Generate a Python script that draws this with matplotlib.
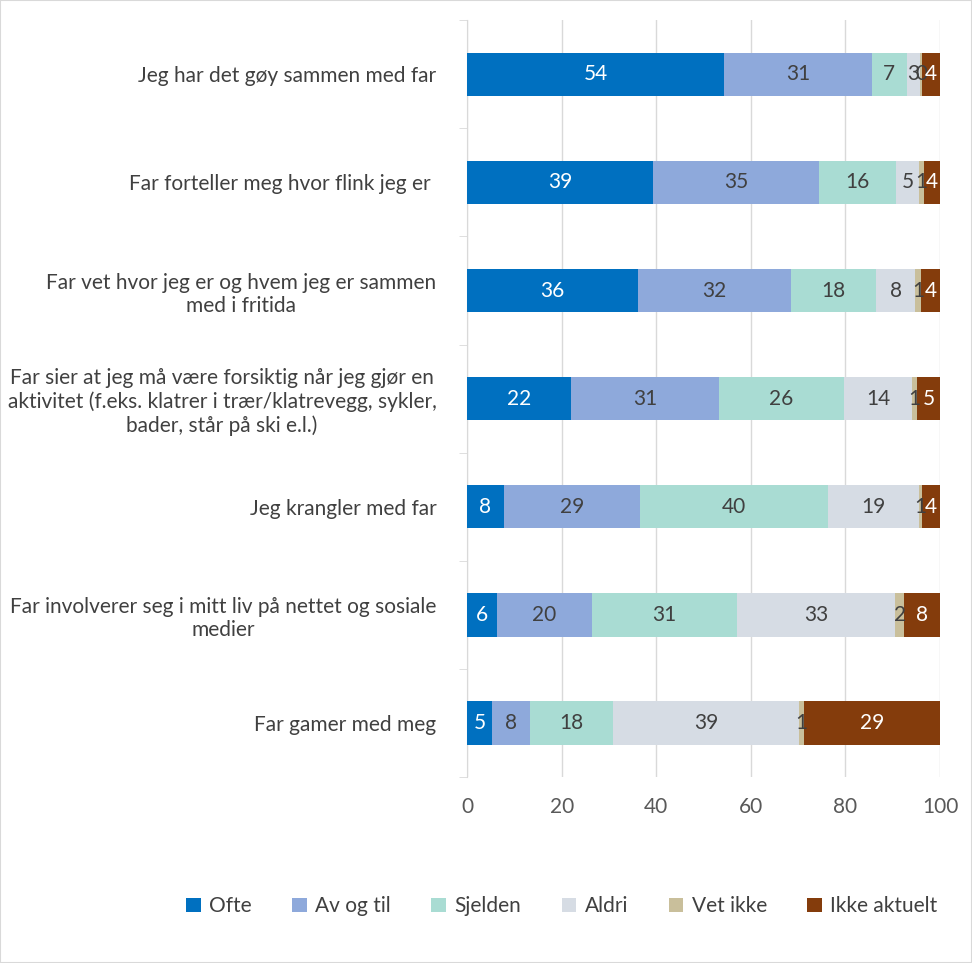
import matplotlib
matplotlib.use('Agg')
import matplotlib.pyplot as plt
import numpy as np

plt.rcParams['font.family'] = ['Lato', 'DejaVu Sans']

categories = [
    'Jeg har det gøy sammen med far',
    'Far forteller meg hvor flink jeg er ',
    'Far vet hvor jeg er og hvem jeg er sammen\nmed i fritida',
    'Far sier at jeg må være forsiktig når jeg gjør en\naktivitet (f.eks. klatrer i trær/klatrevegg, sykler,\nbader, står på ski e.l.)',
    'Jeg krangler med far',
    'Far involverer seg i mitt liv på nettet og sosiale\nmedier',
    'Far gamer med meg',
]
series_names = ['Ofte', 'Av og til', 'Sjelden', 'Aldri', 'Vet ikke', 'Ikke aktuelt']
ofte = [54.3, 39.3, 36.2, 22.0, 7.8, 6.3, 5.3]
av_og_til = [31.3, 35.1, 32.3, 31.3, 28.8, 20.1, 8.0]
sjelden = [7.4, 16.3, 18.0, 26.4, 39.7, 30.7, 17.6]
aldri = [2.8, 4.9, 8.2, 14.4, 19.3, 33.4, 39.3]
vet_ikke = [0.4, 1.0, 1.3, 1.0, 0.6, 1.9, 1.0]
ikke_aktuelt = [3.8, 3.6, 4.0, 4.9, 3.8, 7.6, 28.8]

colors = ['#0070C0', '#8EA9DB', '#A9DCD3', '#D6DCE4', '#C9BF9B', '#843C0C']
text_colors = ['white', '#404040', '#404040', '#404040', '#404040', 'white']

series = [ofte, av_og_til, sjelden, aldri, vet_ikke, ikke_aktuelt]

fig = plt.figure(figsize=(9.72, 9.63), dpi=100)
ax = fig.add_axes([0.4805, 0.193, 0.4866, 0.786])

y = np.arange(len(categories))
left = np.zeros(len(categories))
for name, vals, c, tc in zip(series_names, series, colors, text_colors):
    vals = np.array(vals)
    bars = ax.barh(y, vals, left=left, height=0.4, color=c, label=name, zorder=3)
    ax.bar_label(bars, labels=[f'{v:.0f}' for v in vals], label_type='center',
                 color=tc, fontsize=15, zorder=4)
    left += vals

ax.set_xlim(0, 100)
ax.set_ylim(len(categories) - 0.5, -0.5)
ax.set_xticks([0, 20, 40, 60, 80, 100])
ax.set_yticks(y)
ax.set_yticklabels(categories, fontsize=15, color='#404040', ha='right',
                   multialignment='center')
ax.tick_params(axis='y', length=0, pad=22)
ax.set_yticks(np.arange(-0.5, len(categories), 1), minor=True)
ax.tick_params(axis='y', which='minor', length=6, color='#D9D9D9')
ax.tick_params(axis='x', length=0, labelsize=15, labelcolor='#595959', pad=14)
ax.grid(axis='x', color='#D9D9D9', linewidth=1, zorder=0)
for s in ['top', 'right', 'bottom']:
    ax.spines[s].set_visible(False)
ax.spines['left'].set_color('#D9D9D9')

fig.legend(loc='center', bbox_to_anchor=(0.578, 0.059), ncol=6, frameon=False,
           fontsize=15, handlelength=0.7, handleheight=0.7, columnspacing=1.95,
           handletextpad=0.4, labelcolor='#404040')

fig.patches.append(plt.Rectangle((0, 0), 1, 1, transform=fig.transFigure,
                                 fill=False, edgecolor='#D9D9D9', linewidth=1.5))

fig.savefig('out.png', dpi=100)
